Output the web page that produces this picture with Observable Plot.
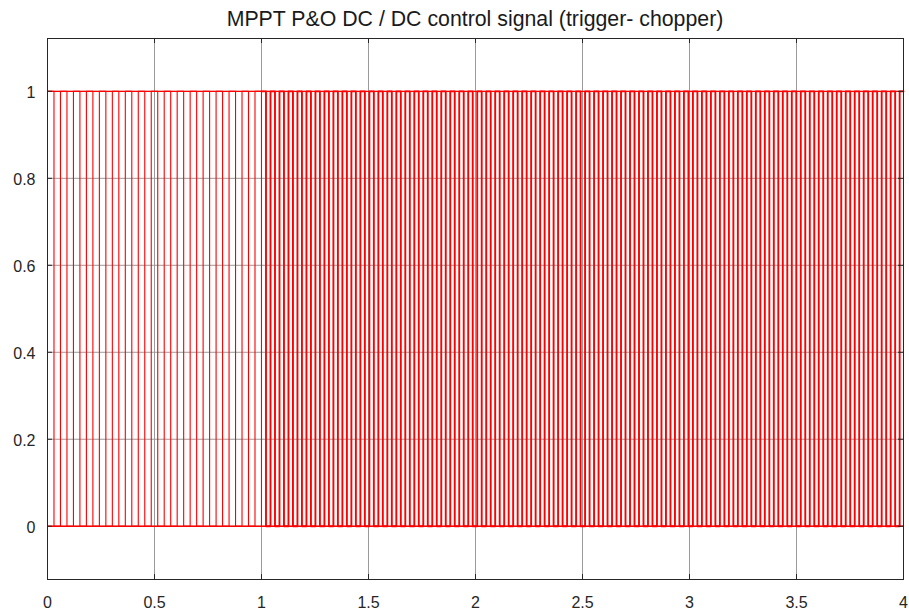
<!DOCTYPE html>
<html>
<head>
<meta charset="utf-8">
<script src="https://cdn.jsdelivr.net/npm/d3@7"></script>
<script src="https://cdn.jsdelivr.net/npm/@observablehq/plot@0.6"></script>
<style>
  html, body { margin: 0; padding: 0; background: #fff; overflow: hidden; }
  #wrap { width: 909px; height: 612px; position: relative; font-family: "Liberation Sans", Arial, Helvetica, sans-serif; }
  #title { height: 30px; width: 909px; position: relative; }
  #title span { position: absolute; left: 47px; width: 856px; text-align: center; top: 9px; font-size: 21.3px; line-height: 21px; color: #1a1a1a; white-space: nowrap; }
  svg { display: block; }
</style>
</head>
<body>
<div id="wrap">
  <div id="title"><span id="titleSpan"></span></div>
  <div id="chart"></div>
</div>
<script>
// ---- data ----
const titleText = "MPPT P&O DC / DC control signal (trigger- chopper)";
// the gate signal is a PWM pulse train; its switching period changes at t = 1
const segmentStart = [0, 1];
const segmentEnd = [1, 4];
const segmentPeriod = [0.0606, 0.042];   // period of the pulse train in each segment
const signalLevels = [0, 1];             // low / high level of the trigger signal
const xTicks = [0, 0.5, 1, 1.5, 2, 2.5, 3, 3.5, 4];
const xTickLabels = ["0", "0.5", "1", "1.5", "2", "2.5", "3", "3.5", "4"];
const yTicks = [0, 0.2, 0.4, 0.6, 0.8, 1];
const yTickLabels = ["0", "0.2", "0.4", "0.6", "0.8", "1"];
const xDomain = [0, 4];
const yDomain = [-0.1225, 1.1215];

document.getElementById("titleSpan").textContent = titleText;

// ---- build the square wave from the segment table ----
const wave = [];
for (let s = 0; s < segmentStart.length; s++) {
  const half = segmentPeriod[s] / 2;
  let level = 1;
  for (let t = segmentStart[s]; t < segmentEnd[s] - 1e-9; t += half) {
    wave.push({t, v: signalLevels[level], seg: s});
    level = 1 - level;
  }
  wave.push({t: segmentEnd[s], v: signalLevels[1 - level], seg: s});
}

// ---- styles ----
const W = 909, H = 582;
const mL = 47, mR = 6, mT = 8, mB = 33;
const plotW = W - mL - mR, plotH = H - mT - mB;
const tickLen = 5;
const gridColor = "#9a9a9a";
const axisColor = "#262626";
const red = "#ff0000";
const segWidth = [1.1, 1.9];

const chart = Plot.plot({
  width: W,
  height: H,
  marginLeft: mL,
  marginRight: mR,
  marginTop: mT,
  marginBottom: mB,
  style: {fontFamily: '"Liberation Sans", Arial, Helvetica, sans-serif', background: "#fff", overflow: "visible"},
  x: {domain: xDomain, axis: null},
  y: {domain: yDomain, axis: null},
  marks: [
    // grid
    Plot.ruleX(xTicks, {x: d => d, stroke: gridColor, strokeWidth: 1}),
    Plot.ruleY(yTicks, {y: d => d, stroke: gridColor, strokeWidth: 1}),
    // signal envelope (both levels are visited continuously)
    Plot.ruleY(signalLevels, {y: d => d, x1: xDomain[0], x2: xDomain[1], stroke: red, strokeWidth: 1.3}),
    // square wave, one line per segment
    ...segmentStart.map((_, s) =>
      Plot.line(wave.filter(d => d.seg === s), {x: "t", y: "v", curve: "step-after", stroke: red, strokeWidth: segWidth[s]})
    ),
    // frame
    Plot.frame({stroke: axisColor, strokeWidth: 1}),
    // inward tick marks
    Plot.tickX(xTicks, {x: d => d, insetTop: plotH - tickLen, stroke: axisColor}),
    Plot.tickX(xTicks, {x: d => d, insetBottom: plotH - tickLen, stroke: axisColor}),
    Plot.tickY(yTicks, {y: d => d, insetRight: plotW - tickLen, stroke: axisColor}),
    Plot.tickY(yTicks, {y: d => d, insetLeft: plotW - tickLen, stroke: axisColor}),
    // tick labels
    Plot.axisX(xTicks, {anchor: "bottom", label: null, tickSize: 0, tickPadding: 17, fontSize: 16, fill: axisColor,
      tickFormat: d => xTickLabels[xTicks.indexOf(d)]}),
    Plot.axisY(yTicks, {anchor: "left", label: null, tickSize: 0, tickPadding: 12, fontSize: 16, fill: axisColor, dy: 2,
      tickFormat: d => yTickLabels[yTicks.indexOf(d)]})
  ]
});
document.getElementById("chart").appendChild(chart);
</script>
</body>
</html>
